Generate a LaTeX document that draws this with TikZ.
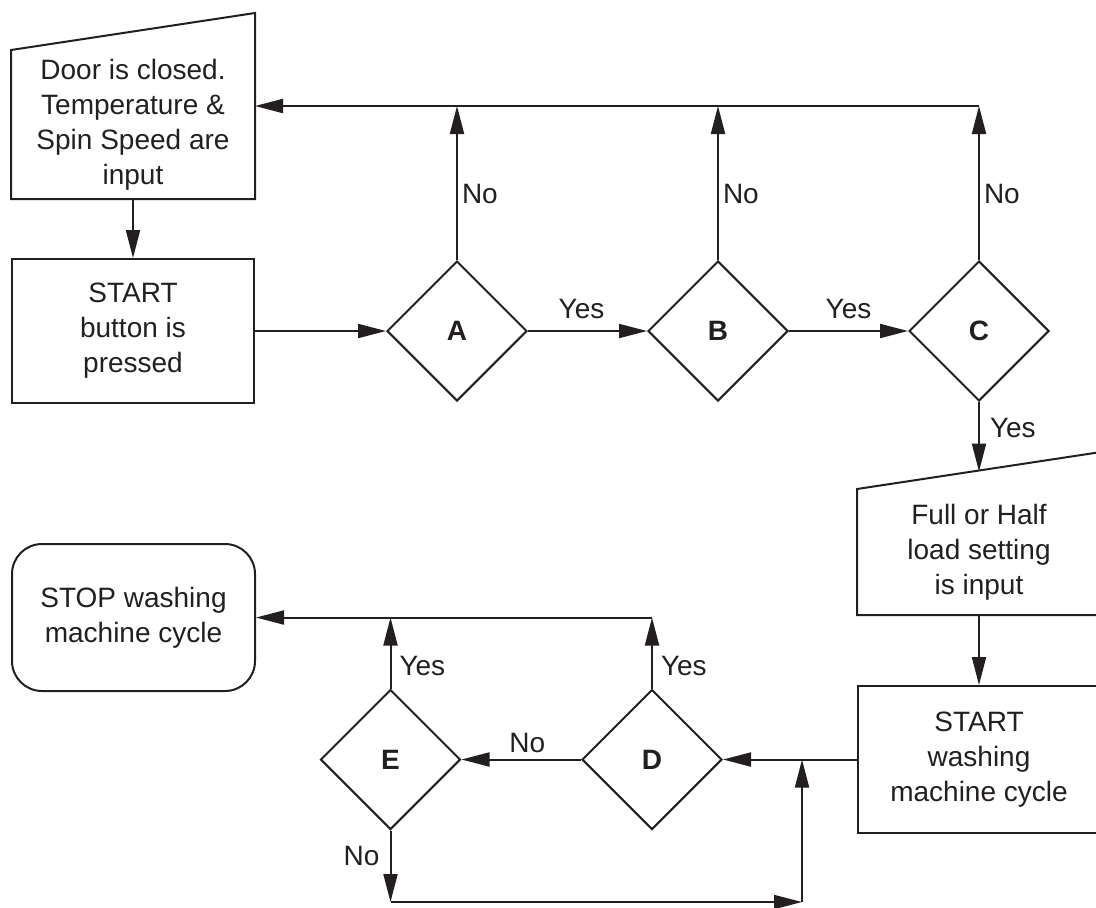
\documentclass[tikz,border=0pt]{standalone}
\usepackage{fontspec}
\setmainfont{Liberation Sans}
\usetikzlibrary{shapes.geometric,arrows.meta}
\definecolor{ink}{RGB}{35,31,32}
\begin{document}
\begin{tikzpicture}[x=0.5pt,y=-0.5pt,color=ink,line width=1pt,>={Triangle[length=14pt,width=7pt]}]
    \tikzset{box/.style = {shape=rectangle,draw,minimum width=121pt,align=center,inner sep=0pt,font=\fontsize{14}{17.5}\selectfont}}
    \tikzset{inbox/.style = {box,draw=none}}
    \tikzset{dec/.style = {shape=diamond,draw,minimum width=70pt,minimum height=70pt,inner sep=0pt,font=\fontsize{14}{17.5}\selectfont\bfseries}}
    \tikzset{lbl/.style = {inner sep=2pt,font=\fontsize{14}{17.5}\selectfont}}
    \useasboundingbox (0,0) rectangle (1096,907);
    \node[inbox,minimum height=73.5pt] (in1) at (133,124.5) {Door is closed.\\Temperature \&\\Spin Speed are\\input};
    \draw (in1.south west) -- (in1.south east) -- ([yshift=18.5pt]in1.north east) -- (in1.north west) -- cycle;
    \node[box,minimum height=72pt] (btn) at (133,331) {START\\button is\\pressed};
    \node[dec] (decA) at (457,331) {A};
    \node[dec] (decB) at (718,331) {B};
    \node[dec] (decC) at (979,331) {C};
    \node[inbox,minimum height=62pt] (in2) at (979,552) {Full or Half\\load setting\\is input};
    \draw (in2.south west) -- (in2.south east) -- ([yshift=18.5pt]in2.north east) -- (in2.north west) -- cycle;
    \node[box,minimum height=73.5pt] (wash) at (979,759.5) {START\\washing\\machine cycle};
    \node[dec] (decD) at (652,759.5) {D};
    \node[dec] (decE) at (390.5,759.5) {E};
    \node[box,rounded corners=15pt,minimum width=121.5pt,minimum height=73.5pt] (stop) at (133.5,617.5) {STOP washing\\machine cycle};
    \coordinate (topA) at (457,106);
    \coordinate (topB) at (718,106);
    \coordinate (topC) at (979,106);
    \coordinate (in2top) at (979,471.5);
    \coordinate (upD) at (652,617.5);
    \coordinate (upE) at (390.5,617.5);
    \coordinate (downE) at (390.5,902);
    \coordinate (jBot) at (802,902);
    \coordinate (jMid) at (802,759.5);
    \draw[->] (in1) to (btn);
    \draw[->] (btn) to (decA);
    \draw[->] (decA) to node[lbl,above=3.5pt,pos=.45] {Yes} (decB);
    \draw[->] (decB) to node[lbl,above=3.5pt] {Yes} (decC);
    \draw[->] (decA) to node[lbl,right,pos=.43] {No} (topA);
    \draw[->] (decB) to node[lbl,right,pos=.43] {No} (topB);
    \draw[->] (decC) to node[lbl,right,pos=.43] {No} (topC);
    \draw[->] (topC) to (topA -| in1.east);
    \draw[->] (decC) to node[lbl,right,pos=.38,xshift=3pt] {Yes} (in2top);
    \draw[->] (in2) to (wash);
    \draw[->] (wash) to (decD);
    \draw[->] (decD) to node[lbl,above=1pt,pos=.45] {No} (decE);
    \draw[->] (decD) to node[lbl,right,pos=.32,xshift=2pt] {Yes} (upD);
    \draw[->] (decE) to node[lbl,right,pos=.32,xshift=2pt] {Yes} (upE);
    \draw[->] (upD) to (upD -| stop.east);
    \draw[->] (decE) to node[lbl,left,pos=.36,xshift=-3pt] {No} (downE);
    \draw[->] (downE) to (jBot);
    \draw[->] (jBot) to (jMid);
\end{tikzpicture}
\end{document}
